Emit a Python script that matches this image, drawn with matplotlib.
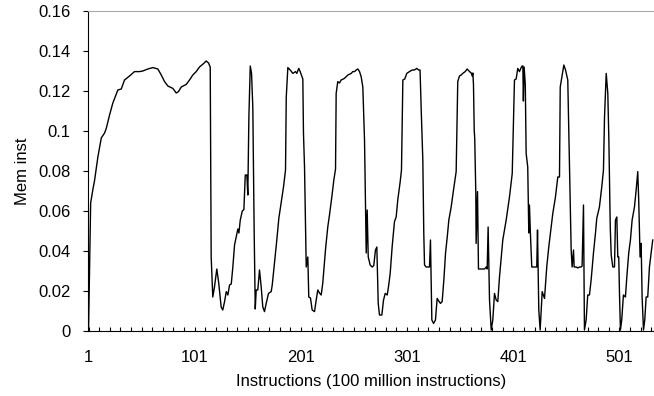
import numpy as np
import matplotlib
matplotlib.use('Agg')
import matplotlib.pyplot as plt

plt.rcParams['font.family'] = ['Liberation Sans', 'DejaVu Sans']

# Datos (instruccion, mem inst)
instr = [1, 3, 5, 6.6, 9.8, 13, 16.1, 17.7, 20.8, 23.9, 28.6, 31.8, 34.9, 39.6, 44.3, 49, 52.1,
         56.8, 61.5, 66.3, 69.5, 72.6, 75.7, 80.4, 83.6, 85.7, 88.3, 93, 96.1, 99.2, 102.4, 105.5,
         109.3, 111.8, 114, 115.6, 116.5, 118, 119.6, 121.8, 123.6, 125.9, 127.4, 129.1, 130.7,
         132.2, 133.8, 135.4, 136.9, 138.5, 140.1, 141.6, 142.6, 143.9, 145.8, 147.3, 148.6, 150.1,
         151, 152, 153.3, 154.5, 155.7, 157, 158, 158.9, 160.4, 162, 163.6, 165.1, 166.7, 168.3,
         170.5, 173, 174, 176.1, 178.3, 180.2, 182.4, 184.6, 186.5, 187.2, 188.7, 190.9, 193.4,
         195.9, 197.1, 199, 200.3, 202.2, 202.8, 203.4, 204.4, 206, 207.5, 208.4, 210, 211.6,
         213.8, 215.4, 216.9, 218.5, 220.1, 221.6, 224.2, 226.3, 227.9, 230.1, 232, 233.6, 234.2,
         235.7, 237.3, 238.9, 242, 245.2, 248.4, 249.8, 251.5, 253.1, 254.6, 256.2, 257.8, 259.3,
         260.9, 262.5, 263.4, 264.4, 266.2, 268.1, 269.6, 271.2, 272.5, 273.8, 275, 277.2, 278.8,
         280.4, 282.3, 283.7, 285.1, 286.9, 289.1, 290.7, 292.2, 294.5, 295.7, 297, 298.8, 300.7,
         303.2, 305.7, 307.9, 310.1, 311.9, 313.2, 314.2, 315.8, 316.7, 317.4, 319, 320.5, 322.1,
         323, 324.3, 325.9, 327.7, 329.3, 330.8, 332.4, 334, 335.6, 337.2, 338.8, 340.3, 342.5,
         344.7, 347.2, 348.7, 350.3, 351.9, 353.4, 355.7, 357.6, 359.8, 361.4, 362.3, 362.9, 363.5,
         364.2, 364.7, 365.7, 366, 367.3, 368.2, 370.8, 373.9, 375.5, 376.4, 377.3, 378.6, 380.2,
         381.7, 383.3, 384.9, 386.4, 388, 391.1, 394.3, 397.4, 400, 402.1, 403.7, 405.2, 406.8,
         408.4, 409.3, 410, 410.5, 411.2, 412.3, 413.1, 414.6, 415.6, 416.2, 417.1, 418.4, 420.9,
         423.1, 423.8, 425, 426.3, 428.2, 430.4, 432.5, 434.4, 436.7, 438.2, 440.7, 442.9, 444.5,
         445.2, 446.7, 448.6, 450.2, 452.3, 453.9, 455.5, 456.4, 457.7, 458.3, 460.2, 461.7, 463.3,
         464.9, 465.8, 467.1, 468, 469.6, 471.1, 472.7, 474.3, 476.5, 478.4, 479.6, 482.1, 484.3,
         485.9, 486.9, 488.5, 490, 491, 492.3, 493.2, 494.7, 496.3, 497.2, 498.5, 499.4, 500.3,
         501, 501.9, 503.1, 504.7, 506.6, 507.9, 509.7, 511.3, 512.9, 515.1, 516.7, 518.2, 519.1,
         520.4, 521.4, 522.3, 523.6, 524.8, 526.1, 527.6, 529.2, 530.8, 532.3]
mem = [0, 0.064, 0.0705, 0.075, 0.087, 0.0965, 0.099, 0.1013, 0.108, 0.114, 0.1205, 0.121, 0.1255,
       0.1275, 0.1297, 0.1297, 0.13, 0.131, 0.1317, 0.131, 0.128, 0.1247, 0.1225, 0.1213, 0.119,
       0.1197, 0.122, 0.1233, 0.1255, 0.128, 0.1297, 0.132, 0.1337, 0.135, 0.134, 0.132, 0.037,
       0.017, 0.022, 0.031, 0.024, 0.012, 0.0105, 0.0147, 0.0197, 0.018, 0.023, 0.0235, 0.032,
       0.043, 0.047, 0.051, 0.049, 0.0555, 0.06, 0.0607, 0.078, 0.078, 0.068, 0.107, 0.1325,
       0.1288, 0.112, 0.049, 0.011, 0.0205, 0.0205, 0.0305, 0.022, 0.012, 0.0097, 0.0138, 0.0188,
       0.0197, 0.023, 0.0338, 0.0455, 0.0563, 0.064, 0.072, 0.0805, 0.117, 0.1317, 0.1305, 0.1288,
       0.1297, 0.1288, 0.1313, 0.1297, 0.127, 0.126, 0.099, 0.082, 0.032, 0.037, 0.017, 0.0165,
       0.0105, 0.0097, 0.0155, 0.0205, 0.019, 0.018, 0.024, 0.041, 0.052, 0.058, 0.067, 0.0755,
       0.081, 0.1188, 0.1247, 0.124, 0.1255, 0.1263, 0.128, 0.1288, 0.1297, 0.1297, 0.1305, 0.131,
       0.1297, 0.127, 0.122, 0.0955, 0.039, 0.0605, 0.037, 0.033, 0.032, 0.0327, 0.0405, 0.042,
       0.0138, 0.008, 0.008, 0.0155, 0.0188, 0.018, 0.023, 0.029, 0.042, 0.0547, 0.057, 0.0655,
       0.0747, 0.0805, 0.1255, 0.126, 0.1288, 0.1297, 0.1305, 0.1305, 0.1313, 0.1305, 0.1305,
       0.112, 0.0855, 0.049, 0.033, 0.032, 0.032, 0.032, 0.0455, 0.0055, 0.0038, 0.0055, 0.0163,
       0.015, 0.0138, 0.0147, 0.0255, 0.039, 0.047, 0.0555, 0.062, 0.0705, 0.0797, 0.1247, 0.1275,
       0.128, 0.1288, 0.1297, 0.131, 0.1297, 0.129, 0.1275, 0.129, 0.1233, 0.1005, 0.096, 0.0688,
       0.0438, 0.0697, 0.031, 0.031, 0.031, 0.032, 0.031, 0.052, 0.0155, 0.0005, 0.0055, 0.0188,
       0.0155, 0.0147, 0.027, 0.0455, 0.0555, 0.067, 0.0788, 0.1255, 0.126, 0.1313, 0.1297,
       0.1317, 0.1325, 0.1325, 0.115, 0.132, 0.123, 0.0888, 0.082, 0.049, 0.063, 0.049, 0.032,
       0.032, 0.032, 0.0505, 0.0105, 0.0005, 0.0197, 0.0163, 0.032, 0.042, 0.052, 0.0588, 0.067,
       0.077, 0.077, 0.122, 0.127, 0.133, 0.1305, 0.1255, 0.082, 0.0405, 0.032, 0.0405, 0.032,
       0.032, 0.0315, 0.032, 0.032, 0.0325, 0.063, 0.0005, 0.0055, 0.018, 0.018, 0.0255, 0.039,
       0.049, 0.0563, 0.062, 0.072, 0.0805, 0.107, 0.1288, 0.1188, 0.0955, 0.052, 0.038, 0.032,
       0.032, 0.0555, 0.057, 0.037, 0.037, 0.0188, 0.0005, 0.0055, 0.018, 0.017, 0.027, 0.039,
       0.0455, 0.0555, 0.062, 0.0705, 0.0797, 0.0655, 0.037, 0.0438, 0.017, 0.0005, 0.0055, 0.017,
       0.017, 0.032, 0.039, 0.0455]

yticks = [0, 0.02, 0.04, 0.06, 0.08, 0.1, 0.12, 0.14, 0.16]
ylabels = ['0', '0.02', '0.04', '0.06', '0.08', '0.1', '0.12', '0.14', '0.16']
xlabels = [1, 101, 201, 301, 401, 501]

fig = plt.figure(figsize=(6.54, 3.96), dpi=100)
ax = fig.add_axes([88 / 654, 65 / 396, 566 / 654, 320 / 396])
ax.plot(instr, mem, color='black', lw=1.0)

ax.set_xlim(0.5, 533.5)
ax.set_ylim(0, 0.16)
ax.set_yticks(yticks)
ax.set_yticklabels(ylabels, fontsize=12)
ax.set_xticks(xlabels)
ax.set_xticklabels([str(v) for v in xlabels], fontsize=12)
ax.set_xticks(np.arange(1, 534, 10), minor=True)
ax.tick_params(axis='x', which='both', direction='in', length=3, width=0.8, pad=14)
ax.tick_params(axis='y', direction='out', length=3.5, width=0.8, pad=9)

ax.spines['right'].set_visible(False)
ax.spines['top'].set_color('#a8a8a8')
ax.spines['left'].set_linewidth(0.8)
ax.spines['bottom'].set_linewidth(0.8)

ax.set_xlabel('Instructions (100 million instructions)', fontsize=12, labelpad=6)
ax.set_ylabel('Mem inst', fontsize=12, labelpad=6)

fig.savefig('out.png', dpi=100)
